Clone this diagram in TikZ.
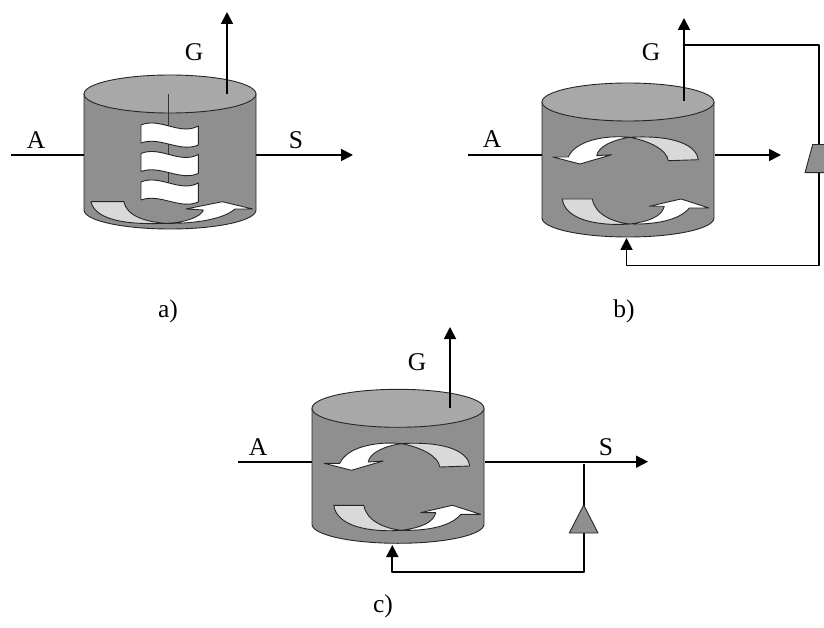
\documentclass[tikz,border=0pt]{standalone}
\usepackage{fontspec}
\setmainfont{Liberation Serif}
\usetikzlibrary{arrows.meta}
\definecolor{bodygray}{HTML}{8F8F8F}
\definecolor{topgray}{HTML}{A8A8A8}
\definecolor{lightgray2}{HTML}{D9D9D9}
\tikzset{
  outline/.style={draw=black!85,line width=0.9pt,line join=round},
  flow/.style={line width=1.8pt,-{Triangle[length=12pt,width=12pt]}},
  plainflow/.style={line width=1.8pt},
  recycle/.style={line width=1.8pt,line join=round,-{Triangle[length=12pt,width=12pt]}},
  lab/.style={font=\fontsize{25.5}{28}\selectfont,inner sep=0pt},
  tank/.pic={
    \path[outline,fill=bodygray] (-86,0) -- (-86,116) arc[start angle=180,end angle=360,x radius=86,y radius=-19] -- (86,0) -- cycle;
    \path[outline,fill=topgray] (0,0) ellipse[x radius=86,y radius=19];
    \coordinate (-left) at (-86,0);
    \coordinate (-c) at (0,0);
  },
  swirlup/.pic={
    \path[outline,fill=white] (2,35.3) .. controls (-14.7,37.7) and (-29.7,44.3) .. (-31.3,53.7) -- (-16.3,52.7) -- (-48,62) -- (-75.3,55) -- (-59.7,55) .. controls (-53,39.3) and (-24.7,32.7) .. (2,35.3) -- cycle;
    \path[outline,fill=lightgray2] (2,35.3) .. controls (48.7,32.7) and (68.7,44.3) .. (70.3,57.7) -- (40.3,58.7) .. controls (38.7,47.7) and (22,39.3) .. (2,35.3) -- cycle;
  },
  swirldown/.pic={
    \path[outline,fill=lightgray2] (-65.7,97) -- (-35.7,97) .. controls (-33,112.7) and (-14.7,120.3) .. (2,122) .. controls (-31,124.3) and (-63,117.7) .. (-65.7,97) -- cycle;
    \path[outline,fill=white] (2,122) .. controls (22,119.3) and (33.7,114.3) .. (36.3,104.3) -- (21.3,104.3) -- (53,97) -- (81,106) -- (61.3,106) .. controls (52,117.7) and (28.7,122.7) .. (2,122) -- cycle;
  },
  swirllow/.pic={
    \path[outline,fill=lightgray2] (-79,107.7) -- (-46,107.7) .. controls (-43.3,122.7) and (-23.3,127.7) .. (-5,129.3) .. controls (-43.3,131) and (-75,126) .. (-79,107.7) -- cycle;
    \path[outline,fill=white] (-5,129.3) .. controls (13.3,129.3) and (31.7,122.7) .. (33.3,116) -- (16,115) -- (52.3,107.7) -- (82.7,115) -- (65,115) .. controls (56.7,122.7) and (33,130) .. (-5,129.3) -- cycle;
  },
  wave/.pic={
    \path[outline,fill=white] (0,0) .. controls (19,-8) and (39,11) .. (57.3,1) -- (57.3,20) .. controls (39,28) and (19,11) .. (0,18) -- cycle;
  }
}
\begin{document}
\begin{tikzpicture}[x=1pt,y=-1pt]
\useasboundingbox (0,0) rectangle (824,628);
% ---- tank a
\pic (ta) at (170,94) {tank};
\draw[line width=0.8pt,black!80] (168,94) -- (168,183);
\pic at (141,125) {wave};
\pic at (141,153.5) {wave};
\pic at (141,182) {wave};
\pic at (170,94) {swirllow};
\coordinate (aIn) at (11,155);
\coordinate (aInEnd) at (84,155);
\coordinate (aOutS) at (256,155);
\coordinate (aOutE) at (353,155);
\coordinate (aGs) at (227,94);
\coordinate (aGe) at (227,12);
\draw[plainflow] (aIn) -- (aInEnd);
\draw[flow] (aOutS) -- (aOutE);
\draw[flow] (aGs) -- (aGe);
\node[lab] (aA) at (36,140) {A};
\node[lab] (aS) at (296,140) {S};
\node[lab] (aG) at (194,52) {G};
\node[lab] (capA) at (168,311) {a)};
% ---- tank b
\pic (tb) at (628,102) {tank};
\pic at (628,102) {swirlup};
\pic at (628,102) {swirldown};
\coordinate (bIn) at (468,155);
\coordinate (bInEnd) at (542,155);
\coordinate (bOutS) at (715,155);
\coordinate (bOutE) at (781,155);
\coordinate (bGs) at (684,101);
\coordinate (bGe) at (684,18);
\coordinate (bJ) at (684,45);
\coordinate (bR1) at (819,45);
\coordinate (bR2) at (819,265.5);
\coordinate (bR3) at (626.5,265.5);
\coordinate (bR4) at (626.5,238);
\draw[plainflow] (bIn) -- (bInEnd);
\draw[flow] (bOutS) -- (bOutE);
\draw[flow] (bGs) -- (bGe);
\draw[recycle] (bJ) -- (bR1) -- (bR2) -- (bR3) -- (bR4);
\path[outline,fill=bodygray] (812.7,144.5) -- (830,144.5) -- (830,172.7) -- (805,172.7) -- cycle;
\node[lab] (bA) at (492,139) {A};
\node[lab] (bG) at (651,52) {G};
\node[lab] (capB) at (624,311) {b)};
% ---- tank c
\pic (tc) at (398,408.3) {tank};
\pic at (399.5,408.3) {swirlup};
\pic at (399.5,408.3) {swirldown};
\coordinate (cIn) at (238,461.7);
\coordinate (cInEnd) at (312,461.7);
\coordinate (cOutS) at (485,461.7);
\coordinate (cOutE) at (648,461.7);
\coordinate (cGs) at (450,408);
\coordinate (cGe) at (450,327);
\coordinate (cB1) at (583.7,464);
\coordinate (cB2) at (583.7,572);
\coordinate (cB3) at (392.3,572);
\coordinate (cB4) at (392.3,545);
\draw[plainflow] (cIn) -- (cInEnd);
\draw[flow] (cOutS) -- (cOutE);
\draw[flow] (cGs) -- (cGe);
\draw[recycle] (cB1) -- (cB2) -- (cB3) -- (cB4);
\path[outline,fill=bodygray] (583.7,505) -- (598,533) -- (569.3,533) -- cycle;
\node[lab] (cA) at (258,447) {A};
\node[lab] (cS) at (606,447) {S};
\node[lab] (cG) at (417,362) {G};
\node[lab] (capC) at (383,606) {c)};
\end{tikzpicture}
\end{document}
